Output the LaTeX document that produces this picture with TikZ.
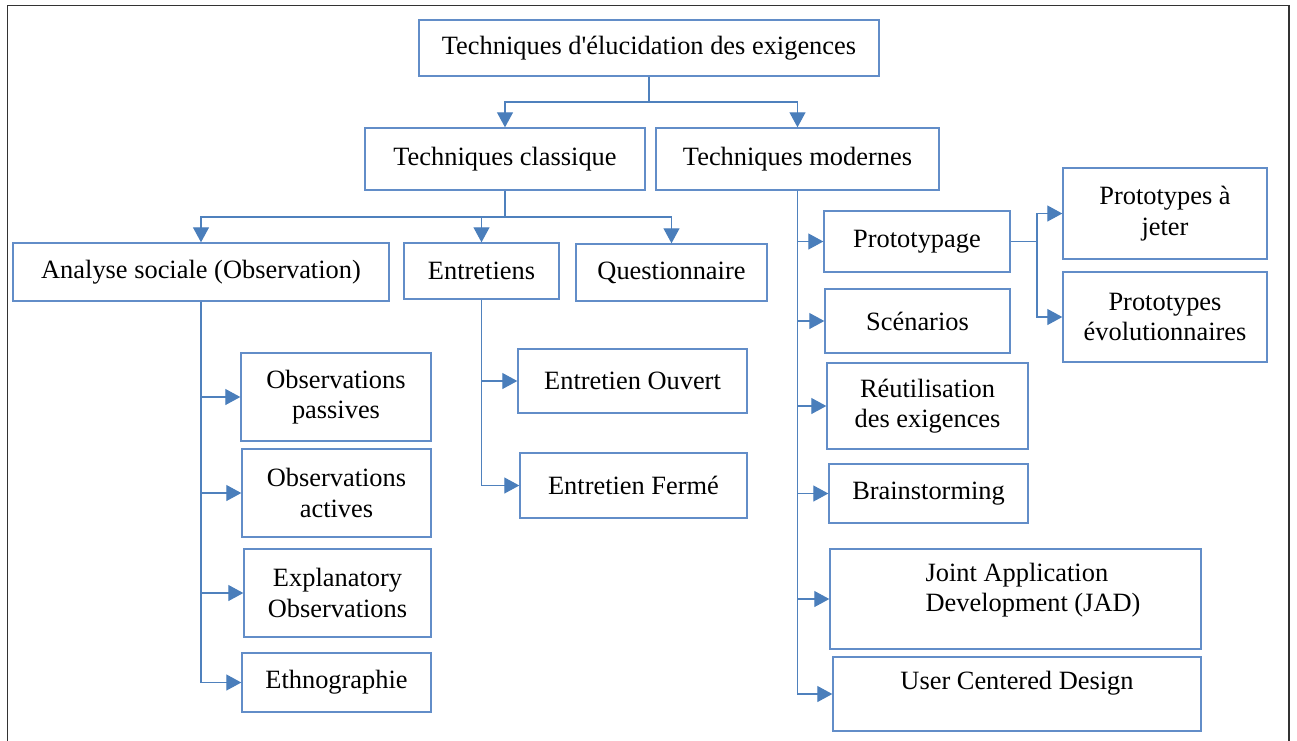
\documentclass[tikz,border=0pt]{standalone}
\usepackage{fontspec}
\setmainfont{Liberation Serif}
\usetikzlibrary{arrows.meta}

\definecolor{boxblue}{RGB}{98,141,200}
\definecolor{linkblue}{RGB}{79,129,189}
\definecolor{tipblue}{RGB}{74,126,187}

\tikzset{
  box/.style={draw=boxblue, line width=1.4pt, fill=white, rectangle,
    inner sep=0pt, align=center,
    font=\fontsize{26.4}{30.5}\selectfont},
  lbl/.style={inner sep=0pt, font=\fontsize{26.4}{30.5}\selectfont},
  link/.style={draw=linkblue, line width=1.2pt},
  arr/.style={link, -{Triangle[length=15pt,width=16pt,fill=tipblue,color=tipblue]}},
}

\begin{document}
\begin{tikzpicture}[x=1pt,y=-1pt]
  \useasboundingbox (0,0) rectangle (1297,740);
  % open frame around the chart
  \draw[black!80, line width=1.5pt] (7.5,745) -- (7.5,5.5) -- (1289,5.5) -- (1289,745);

  % root and first level
  \node[box, minimum width=460, minimum height=56] (top) at (649,48) {Techniques d\textquotesingle élucidation des exigences};
  \node[box, minimum width=280, minimum height=62] (cls) at (505,159) {Techniques classique};
  \node[box, minimum width=283, minimum height=62] (mod) at (797.5,159) {Techniques modernes};

  % classical techniques
  \node[box, minimum width=376, minimum height=58] (ana) at (201,272) {Analyse sociale (Observation)};
  \node[box, minimum width=155, minimum height=56] (ent) at (481.5,271) {Entretiens};
  \node[box, minimum width=191, minimum height=57] (que) at (671.5,272.5) {Questionnaire};

  \node[box, minimum width=190, minimum height=88] (op) at (336,397) {Observations\\passives};
  \node[box, minimum width=189, minimum height=88] (oa) at (336.5,493) {Observations\\actives};
  \node[box, minimum width=187, minimum height=88] (eo) at (337.5,593) {Explanatory\\Observations};
  \node[box, minimum width=189, minimum height=59] (eth) at (336.5,682.5) {Ethnographie};

  \node[box, minimum width=229, minimum height=64] (eov) at (632.5,381) {Entretien Ouvert};
  \node[box, minimum width=227, minimum height=65] (efe) at (633.5,485.5) {Entretien Fermé};

  % modern techniques
  \node[box, minimum width=186, minimum height=61] (pro) at (917,241.5) {Prototypage};
  \node[box, minimum width=185, minimum height=64] (sce) at (917.5,321) {Scénarios};
  \node[box, minimum width=201, minimum height=86] (reu) at (927.5,406) {Réutilisation\\des exigences};
  \node[box, minimum width=199, minimum height=59] (bra) at (928.5,493.5) {Brainstorming};
  \node[box, minimum width=371, minimum height=100] (jad) at (1015.5,599) {};
  \node[lbl, align=left] (jadt) at (1033,590) {Joint Application\\Development (JAD)};
  \node[box, minimum width=368, minimum height=74] (ucd) at (1017,694) {};
  \node[lbl] (ucdt) at (1017,683) {User Centered Design};

  \node[box, minimum width=204, minimum height=91] (pj) at (1165,213.5) {Prototypes à\\jeter};
  \node[box, minimum width=204, minimum height=90] (pe) at (1165,317) {Prototypes\\évolutionnaires};

  % junction points
  \coordinate (j0) at (649,102);
  \coordinate (j1) at (505,217);
  \coordinate (j2) at (1037,241.5);

  % root branches
  \draw[link] (top.south) -- (j0);
  \draw[arr] (j0) -| (cls.north);
  \draw[arr] (j0) -| (mod.north);

  % classical branches
  \draw[link] (cls.south) -- (j1);
  \draw[arr] (j1) -| (ana.north);
  \draw[arr] (j1) -| (ent.north);
  \draw[arr] (j1) -| (que.north);

  \draw[arr] (ana.south) |- (op.west);
  \draw[arr] (ana.south) |- (oa.west);
  \draw[arr] (ana.south) |- (eo.west);
  \draw[arr] (ana.south) |- (eth.west);

  \draw[arr] (ent.south) |- (eov.west);
  \draw[arr] (ent.south) |- (efe.west);

  % modern branches
  \draw[arr] (mod.south) |- (pro.west);
  \draw[arr] (mod.south) |- (sce.west);
  \draw[arr] (mod.south) |- (reu.west);
  \draw[arr] (mod.south) |- (bra.west);
  \draw[arr] (mod.south) |- (jad.west);
  \draw[arr] (mod.south) |- (ucd.west);

  \draw[link] (pro.east) -- (j2);
  \draw[arr] (j2) |- (pj.west);
  \draw[arr] (j2) |- (pe.west);
\end{tikzpicture}
\end{document}
